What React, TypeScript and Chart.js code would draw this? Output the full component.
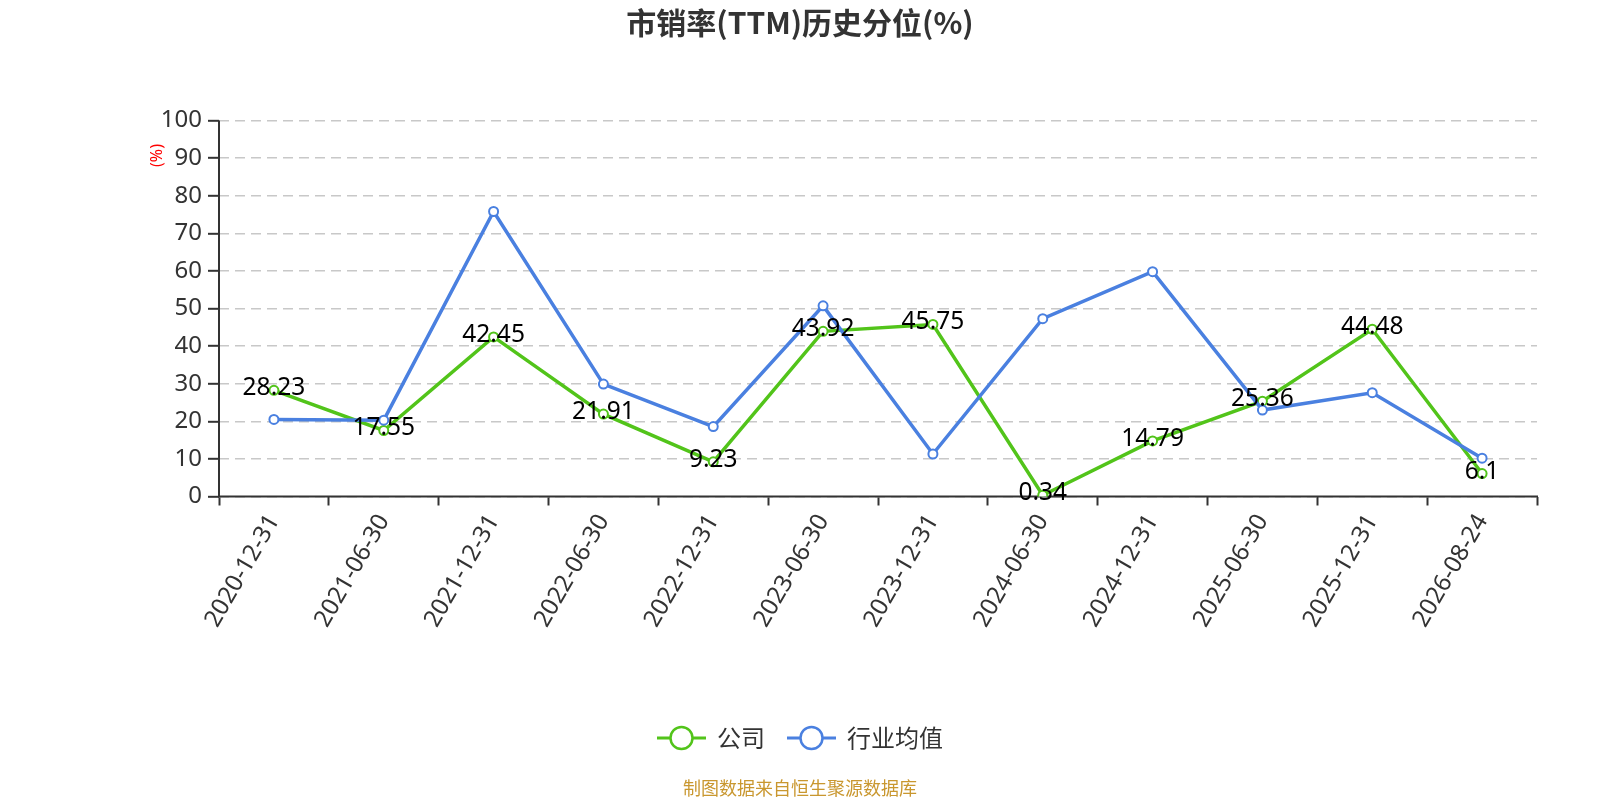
import React, { useEffect, useRef } from "react";
import { Chart, registerables } from "chart.js";

Chart.register(...registerables);

const chartTitle = "市销率(TTM)历史分位(%)";
const yAxisTitle = "(%)";
const footerText = "制图数据来自恒生聚源数据库";

const categories = [
  "2020-12-31",
  "2021-06-30",
  "2021-12-31",
  "2022-06-30",
  "2022-12-31",
  "2023-06-30",
  "2023-12-31",
  "2024-06-30",
  "2024-12-31",
  "2025-06-30",
  "2025-12-31",
  "2026-08-24",
];

const seriesNames = ["公司", "行业均值"];
const companyValues = [28.23, 17.55, 42.45, 21.91, 9.23, 43.92, 45.75, 0.34, 14.79, 25.36, 44.48, 6.1];
const industryValues = [20.5, 20.3, 75.8, 29.9, 18.6, 50.7, 11.3, 47.3, 59.8, 23.0, 27.6, 10.2];

const yMin = 0;
const yMax = 100;
const yStep = 10;

const GREEN = "#52c41a";
const BLUE = "#4a80e0";
const AXIS = "#333";
const FONT = '"Noto Sans", "Noto Sans CJK SC", sans-serif';
const CJK_FONT = '"Noto Sans CJK SC", "Noto Sans", sans-serif';

export default function App() {
  const canvasRef = useRef<HTMLCanvasElement | null>(null);

  useEffect(() => {
    document.body.style.margin = "0";
    const canvas = canvasRef.current;
    if (!canvas) return;

    const labelsPlugin = {
      id: "valueLabels",
      afterDatasetsDraw(chart: any) {
        const ctx = chart.ctx;
        const meta = chart.getDatasetMeta(0);
        const data = chart.data.datasets[0].data as number[];
        ctx.save();
        ctx.font = `24.5px ${FONT}`;
        ctx.fillStyle = "#000";
        ctx.textAlign = "center";
        ctx.textBaseline = "middle";
        meta.data.forEach((pt: any, i: number) => {
          ctx.fillText(String(data[i]), pt.x, pt.y - 2);
        });
        ctx.restore();
      },
    };

    const axesPlugin = {
      id: "axesLines",
      beforeDatasetsDraw(chart: any) {
        const ctx = chart.ctx;
        const a = chart.chartArea;
        ctx.save();
        ctx.strokeStyle = AXIS;
        ctx.lineWidth = 2;
        ctx.setLineDash([]);
        ctx.beginPath();
        ctx.moveTo(a.left, a.top);
        ctx.lineTo(a.left, a.bottom);
        ctx.moveTo(a.left - 1, a.bottom);
        ctx.lineTo(a.right + 1, a.bottom);
        ctx.stroke();
        ctx.restore();
      },
    };

    const decorPlugin = {
      id: "decor",
      afterDraw(chart: any) {
        const ctx = chart.ctx;
        const area = chart.chartArea;
        const W = chart.width;
        ctx.save();
        // Title
        ctx.font = `bold 30px ${CJK_FONT}`;
        ctx.fillStyle = "#333";
        ctx.textAlign = "center";
        ctx.textBaseline = "middle";
        ctx.fillText(chartTitle, W / 2, 23);

        // Y axis title
        ctx.save();
        ctx.translate(area.left - 62, area.top + 35);
        ctx.rotate(-Math.PI / 2);
        ctx.font = `16px ${FONT}`;
        ctx.fillStyle = "#ff0000";
        ctx.textAlign = "center";
        ctx.textBaseline = "middle";
        ctx.fillText(yAxisTitle, 0, 0);
        ctx.restore();

        // Legend
        const colors = [GREEN, BLUE];
        ctx.font = `24px ${CJK_FONT}`;
        const iconW = 49;
        const gap = 11;
        const itemGap = 22;
        const widths = seriesNames.map((n) => ctx.measureText(n).width);
        const total = widths.reduce((a, w) => a + iconW + gap + w, 0) + itemGap * (seriesNames.length - 1);
        let x = W / 2 - total / 2;
        const ly = 738;
        seriesNames.forEach((name, i) => {
          ctx.strokeStyle = colors[i];
          ctx.lineWidth = 3;
          ctx.beginPath();
          ctx.moveTo(x, ly);
          ctx.lineTo(x + iconW, ly);
          ctx.stroke();
          ctx.beginPath();
          ctx.arc(x + iconW / 2, ly, 11, 0, Math.PI * 2);
          ctx.fillStyle = "#fff";
          ctx.fill();
          ctx.lineWidth = 2.5;
          ctx.stroke();
          ctx.fillStyle = "#333";
          ctx.textAlign = "left";
          ctx.textBaseline = "middle";
          ctx.fillText(name, x + iconW + gap, ly);
          x += iconW + gap + widths[i] + itemGap;
        });

        // Footer
        ctx.font = `18px ${CJK_FONT}`;
        ctx.fillStyle = "#c9972f";
        ctx.textAlign = "center";
        ctx.textBaseline = "middle";
        ctx.fillText(footerText, W / 2, 788);
        ctx.restore();
      },
    };

    const chart = new Chart(canvas, {
      type: "line",
      data: {
        labels: categories,
        datasets: [
          {
            label: seriesNames[0],
            data: companyValues,
            borderColor: GREEN,
            backgroundColor: "#fff",
            pointBackgroundColor: "#fff",
            pointBorderColor: GREEN,
            borderWidth: 3.5,
            pointRadius: 4.5,
            pointBorderWidth: 2,
            tension: 0,
            order: 2,
          },
          {
            label: seriesNames[1],
            data: industryValues,
            borderColor: BLUE,
            backgroundColor: "#fff",
            pointBackgroundColor: "#fff",
            pointBorderColor: BLUE,
            borderWidth: 3.5,
            pointRadius: 4.5,
            pointBorderWidth: 2,
            tension: 0,
            order: 1,
          },
        ],
      },
      options: {
        animation: false,
        responsive: false,
        devicePixelRatio: 1,
        layout: { padding: { left: 0, right: 63, top: 120.5, bottom: 0 } },
        plugins: {
          legend: { display: false },
          title: { display: false },
          tooltip: { enabled: false },
        },
        scales: {
          x: {
            type: "category",
            offset: true,
            grid: {
              display: true,
              offset: true,
              drawOnChartArea: false,
              drawTicks: true,
              tickLength: 9,
              tickColor: AXIS,
              tickWidth: 2,
            },
            border: { display: false },
            ticks: {
              autoSkip: false,
              maxRotation: 60,
              minRotation: 60,
              padding: 4,
              color: "#333",
              font: { family: FONT, size: 24 },
            },
            afterFit(scale: any) {
              scale.height = 303.5;
            },
          },
          y: {
            type: "linear",
            min: yMin,
            max: yMax,
            grid: {
              color: "#c8c8c8",
              lineWidth: 1.6,
              tickLength: 11,
              tickColor: AXIS,
              tickWidth: 2,
              tickBorderDash: [],
            },
            border: { display: false, dash: [10, 6] },
            ticks: {
              stepSize: yStep,
              padding: 6,
              color: "#333",
              font: { family: FONT, size: 24 },
            },
            afterFit(scale: any) {
              scale.width = 219;
            },
          },
        },
      },
      plugins: [axesPlugin, labelsPlugin, decorPlugin],
    } as any);

    return () => {
      chart.destroy();
    };
  }, []);

  return (
    <div style={{ width: 1600, height: 800 }}>
      <canvas ref={canvasRef} width={1600} height={800} style={{ display: "block", width: 1600, height: 800 }} />
    </div>
  );
}
